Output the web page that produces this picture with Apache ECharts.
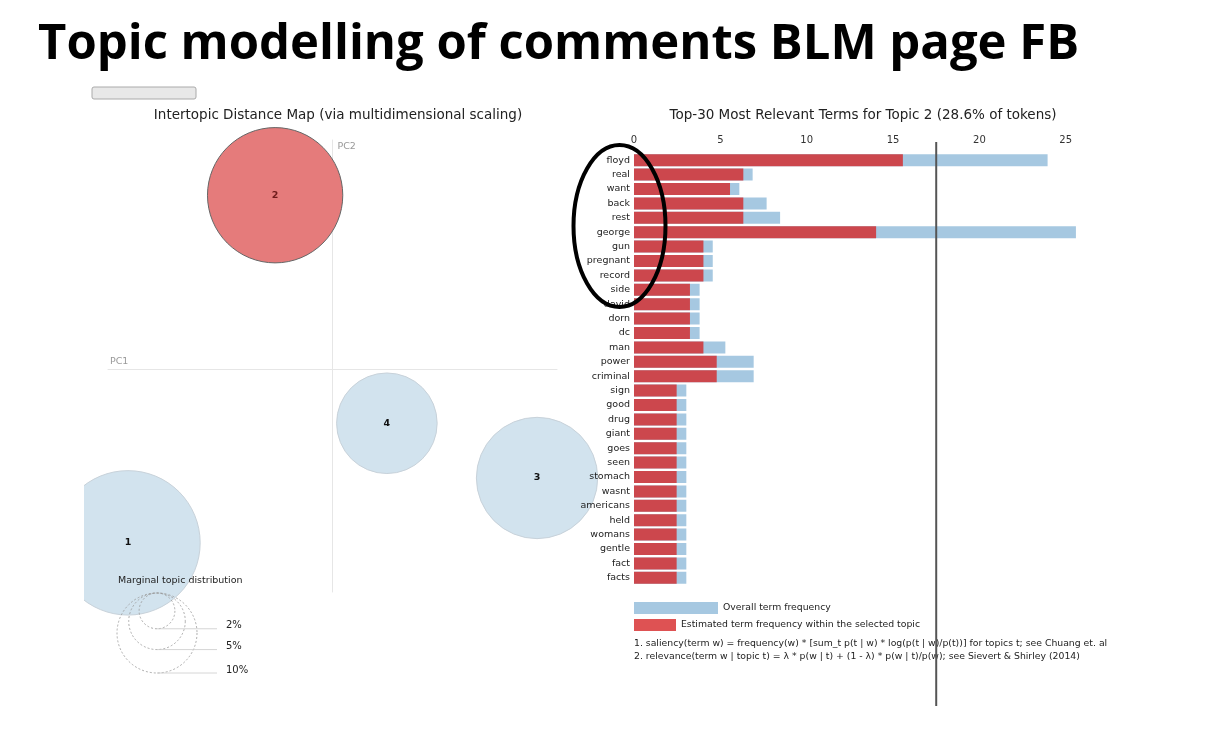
<!DOCTYPE html>
<html>
<head>
<meta charset="utf-8">
<script src="https://cdn.jsdelivr.net/npm/echarts@6/dist/echarts.min.js"></script>
<style>
html,body{margin:0;padding:0;background:#fff;}
#chart{width:1207px;height:729px;}
</style>
</head>
<body>
<div id="chart"></div>
<script>
// ---- Data ----
const terms = ['floyd','real','want','back','rest','george','gun','pregnant','record','side','david','dorn','dc','man','power','criminal','sign','good','drug','giant','goes','seen','stomach','wasnt','americans','held','womans','gentle','fact','facts'];
const overallFreq = [23.95, 6.87, 6.1, 7.68, 8.46, 25.59, 4.56, 4.56, 4.56, 3.8, 3.8, 3.8, 3.8, 5.29, 6.93, 6.93, 3.03, 3.03, 3.03, 3.03, 3.03, 3.03, 3.03, 3.03, 3.03, 3.03, 3.03, 3.03, 3.03, 3.03];
const topicFreq = [15.57, 6.33, 5.56, 6.33, 6.33, 14.02, 4.02, 4.02, 4.02, 3.24, 3.24, 3.24, 3.24, 4.02, 4.79, 4.79, 2.47, 2.47, 2.47, 2.47, 2.47, 2.47, 2.47, 2.47, 2.47, 2.47, 2.47, 2.47, 2.47, 2.47];
const barTicks = [0, 5, 10, 15, 20, 25];

const topicIds = [1, 2, 3, 4];
const topicPC1 = [-0.41, -0.115, 0.41, 0.109];
const topicPC2 = [-0.343, 0.343, -0.215, -0.107];
const topicShare = [32.6, 28.6, 23.0, 15.8];
const selectedTopic = 2;
const legendShares = [2, 5, 10];
const lambdaMark = 17.5;

// ---- Styles ----
const FONT = 'DejaVu Sans';
const BLUE = '#a6c8e1';
const RED = '#cc474d';
const RED_LEGEND = '#de5253';
const radiusOf = p => 40 * Math.sqrt(p / 10);

const chart = echarts.init(document.getElementById('chart'));

const scatterData = topicIds.map((id, i) => {
  const sel = id === selectedTopic;
  return {
    value: [topicPC1[i], topicPC2[i], topicShare[i], id],
    itemStyle: {color: sel ? '#e57b7b' : '#d2e3ee', borderColor: sel ? '#666' : '#c8d2da', borderWidth: 1, opacity: 1},
    label: {color: sel ? '#6e1b1b' : '#111'}
  };
});

// legend circles for marginal topic distribution
const legCx = 157, legTop = 593;
const legendGraphics = [];
legendShares.slice().reverse().forEach(p => {
  const r = radiusOf(p);
  legendGraphics.push({type:'circle', shape:{cx:legCx, cy:legTop + r, r:r}, style:{fill:'none', stroke:'#999', lineWidth:0.8, lineDash:[2,2]}, z:50});
});
legendShares.forEach(p => {
  const r = radiusOf(p);
  const yb = legTop + 2 * r;
  legendGraphics.push({type:'line', shape:{x1:legCx, y1:yb, x2:217, y2:yb}, style:{stroke:'#ccc', lineWidth:0.8}, z:50});
  legendGraphics.push({type:'text', x:226, y:yb - 3, style:{text:p + '%', font:'10px ' + FONT, fill:'#222', textVerticalAlign:'middle'}, z:50});
});

const option = {
  backgroundColor: '#fff',
  animation: false,
  textStyle: {fontFamily: FONT},
  title: [
    {text:'Topic modelling of comments BLM page FB', left:33, top:16, textStyle:{fontFamily:'Open Sans', fontWeight:'bold', fontSize:49, color:'#000'}},
    {text:'Intertopic Distance Map (via multidimensional scaling)', left:333, textAlign:'center', top:103, textStyle:{fontFamily:FONT, fontWeight:'normal', fontSize:13.5, color:'#222'}},
    {text:'Top-30 Most Relevant Terms for Topic 2 (28.6% of tokens)', left:858, textAlign:'center', top:103, textStyle:{fontFamily:FONT, fontWeight:'normal', fontSize:13.5, color:'#222'}}
  ],
  legend: [
    {data:[{name:'Overall term frequency', itemStyle:{color:BLUE}}], left:634, top:602, padding:0, itemWidth:84, itemHeight:12, itemGap:0, icon:'rect', selectedMode:false, textStyle:{fontFamily:FONT, fontSize:9.3, color:'#222'}},
    {data:[{name:'Estimated term frequency within the selected topic', itemStyle:{color:RED_LEGEND}}], left:634, top:619, padding:0, itemWidth:42, itemHeight:12, itemGap:0, icon:'rect', selectedMode:false, textStyle:{fontFamily:FONT, fontSize:9.3, color:'#222'}}
  ],
  grid: [
    {left:108, top:140, width:449, height:452},
    {left:634, top:153, width:449, height:432}
  ],
  xAxis: [
    {gridIndex:0, type:'value', min:-0.45, max:0.45, name:'PC1', nameLocation:'start', nameGap:0,
     nameTextStyle:{color:'#999', fontSize:9.5, align:'left', verticalAlign:'bottom', padding:[0,0,3,2]},
     axisLine:{show:true, onZero:true, lineStyle:{color:'#e6e6e6', width:1}}, axisTick:{show:false}, axisLabel:{show:false}, splitLine:{show:false}},
    {gridIndex:1, type:'value', position:'top', min:0, max:26, interval:5,
     axisLine:{show:false}, axisTick:{show:false}, splitLine:{show:false},
     axisLabel:{margin:8, fontSize:10, color:'#333', showMaxLabel:false, fontFamily:FONT}}
  ],
  yAxis: [
    {gridIndex:0, type:'value', min:-0.44, max:0.452, name:'PC2', nameLocation:'end', nameGap:0,
     nameTextStyle:{color:'#999', fontSize:9.5, align:'left', verticalAlign:'top', padding:[2,0,0,5]},
     axisLine:{show:true, onZero:true, lineStyle:{color:'#e6e6e6', width:1}}, axisTick:{show:false}, axisLabel:{show:false}, splitLine:{show:false}},
    {gridIndex:1, type:'category', data:terms, inverse:true, z:10,
     axisLine:{show:false}, axisTick:{show:false}, splitLine:{show:false},
     axisLabel:{margin:4, fontSize:9.5, color:'#222', fontFamily:FONT}}
  ],
  series: [
    {type:'scatter', xAxisIndex:0, yAxisIndex:0, data:scatterData,
     symbolSize: v => 2 * radiusOf(v[2]),
     label:{show:true, position:'inside', formatter: p => String(p.value[3]), fontWeight:'bold', fontSize:9.5, fontFamily:FONT},
     emphasis:{disabled:true}, z:2},
    {type:'bar', name:'Overall term frequency', xAxisIndex:1, yAxisIndex:1, data:overallFreq, barWidth:12, barGap:'-100%',
     itemStyle:{color:BLUE}, emphasis:{disabled:true}},
    {type:'bar', name:'Estimated term frequency within the selected topic', xAxisIndex:1, yAxisIndex:1, data:topicFreq, barWidth:12, barGap:'-100%',
     itemStyle:{color:RED}, emphasis:{disabled:true}}
  ]
};

chart.setOption(option);

const lx = chart.convertToPixel({xAxisIndex:1}, lambdaMark);
const graphics = [
  // partially hidden button
  {type:'rect', shape:{x:92, y:87, width:104, height:12, r:2}, style:{fill:'#e8e8e8', stroke:'#aaa', lineWidth:1}, z:50},
  // left edge of the left panel area
  {type:'rect', shape:{x:0, y:440, width:84, height:200}, style:{fill:'#fff'}, z:40},
  {type:'text', x:118, y:581, style:{text:'Marginal topic distribution', font:'9.5px ' + FONT, fill:'#222', textVerticalAlign:'middle'}, z:50},
  ...legendGraphics,
  {type:'text', x:634, y:644, style:{text:'1. saliency(term w) = frequency(w) * [sum_t p(t | w) * log(p(t | w)/p(t))] for topics t; see Chuang et. al', font:'9.3px ' + FONT, fill:'#222', textVerticalAlign:'middle'}, z:50},
  {type:'text', x:634, y:657, style:{text:'2. relevance(term w | topic t) = \u03bb * p(w | t) + (1 - \u03bb) * p(w | t)/p(w); see Sievert & Shirley (2014)', font:'9.3px ' + FONT, fill:'#222', textVerticalAlign:'middle'}, z:50},
  {type:'line', shape:{x1:lx, y1:142, x2:lx, y2:706}, style:{stroke:'#555', lineWidth:2}, z:60},
  {type:'ellipse', shape:{cx:619.5, cy:226, rx:46, ry:81}, style:{fill:'none', stroke:'#000', lineWidth:4}, z:70}
];
chart.setOption({graphic: graphics});
</script>
</body>
</html>
